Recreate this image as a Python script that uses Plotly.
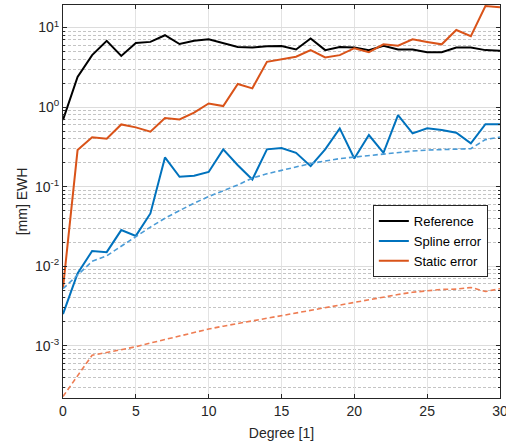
import plotly.graph_objects as go
import numpy as np

degree = list(range(0, 31))

reference = [0.69, 2.4, 4.5, 6.8, 4.4, 6.4, 6.6, 8.0, 6.2, 6.8,
             7.1, 6.3, 5.7, 5.6, 5.8, 5.85, 5.3, 7.3, 5.2, 5.7,
             5.6, 5.2, 5.9, 5.3, 5.3, 4.9, 4.9, 5.6, 5.6, 5.2, 5.1]

spline_error = [0.0025, 0.0081, 0.0155, 0.015, 0.0284, 0.024, 0.046, 0.233, 0.133, 0.137,
                0.153, 0.294, 0.186, 0.123, 0.294, 0.306, 0.266, 0.181, 0.294, 0.54,
                0.226, 0.445, 0.266, 0.79, 0.467, 0.54, 0.514, 0.475, 0.35, 0.61, 0.61]

static_error = [0.0053, 0.288, 0.416, 0.40, 0.605, 0.556, 0.49, 0.73, 0.70, 0.85,
                1.11, 1.03, 1.95, 1.72, 3.7, 4.0, 4.3, 5.2, 4.2, 4.5,
                5.5, 4.9, 6.15, 5.9, 7.1, 6.6, 6.15, 9.3, 7.8, 18.6, 18.0]

spline_bound = [0.0052, 0.0078, 0.0115, 0.0135, 0.018, 0.0235, 0.031, 0.040, 0.050, 0.062,
                0.075, 0.088, 0.105, 0.128, 0.145, 0.160, 0.178, 0.195, 0.210, 0.225,
                0.235, 0.245, 0.26, 0.27, 0.28, 0.288, 0.29, 0.295, 0.30, 0.39, 0.42]

static_bound = [0.00023, 0.00042, 0.00076, 0.00082, 0.00089, 0.00097, 0.00108, 0.0012, 0.00133, 0.00147,
                0.00162, 0.00176, 0.0019, 0.00208, 0.00225, 0.00242, 0.0026, 0.00278, 0.00305, 0.0033,
                0.00355, 0.00385, 0.0041, 0.0044, 0.0047, 0.0049, 0.0051, 0.00515, 0.0054, 0.0048, 0.0052]

x_ticks = [0, 5, 10, 15, 20, 25, 30]
y_tickvals = [1e-3, 1e-2, 1e-1, 1, 10]
y_ticktext = ["10<sup>-3</sup>", "10<sup>-2</sup>", "10<sup>-1</sup>", "10<sup>0</sup>", "10<sup>1</sup>"]
decades = [1e-4, 1e-3, 1e-2, 1e-1, 1, 10]
minor_mult = [2, 3, 4, 5, 6, 7, 8, 9]

y_minor_vals = [d * m for d in decades for m in minor_mult]

BLACK = "#000000"
BLUE = "#0072BD"
ORANGE = "#D95319"
BLUE_L = "#4A9BD6"
ORANGE_L = "#EE7C52"
AX = "#262626"
FONT = "Liberation Sans, Arial, sans-serif"

fig = go.Figure()
fig.add_trace(go.Scatter(x=degree, y=reference, mode="lines", name="Reference",
                         line=dict(color=BLACK, width=2)))
fig.add_trace(go.Scatter(x=degree, y=spline_error, mode="lines", name="Spline error",
                         line=dict(color=BLUE, width=2)))
fig.add_trace(go.Scatter(x=degree, y=static_error, mode="lines", name="Static error",
                         line=dict(color=ORANGE, width=2)))
fig.add_trace(go.Scatter(x=degree, y=spline_bound, mode="lines", showlegend=False,
                         line=dict(color=BLUE_L, width=1.6, dash="5px,3px")))
fig.add_trace(go.Scatter(x=degree, y=static_bound, mode="lines", showlegend=False,
                         line=dict(color=ORANGE_L, width=1.6, dash="5px,3px")))

fig.update_layout(
    width=506, height=444,
    margin=dict(l=63, r=6, t=5, b=46, autoexpand=False),
    paper_bgcolor="white", plot_bgcolor="white",
    font=dict(family=FONT, size=14, color=AX),
    legend=dict(x=0.709, y=0.491, xanchor="left", yanchor="top",
                bgcolor="white", bordercolor=AX, borderwidth=1,
                font=dict(size=13, color="#000000"), itemwidth=30,
                tracegroupgap=0),
)
fig.update_xaxes(
    range=[0, 30.001], tickmode="array", tickvals=x_ticks, ticktext=[str(v) for v in x_ticks],
    ticklabeloverflow="allow", automargin=False,
    showgrid=True, gridcolor="#e3e3e3", gridwidth=1,
    showline=True, linecolor=AX, linewidth=1, mirror="ticks", ticks="inside",
    ticklen=4, tickcolor=AX, zeroline=False,
    title=dict(text="Degree [1]", font=dict(size=14, color=AX), standoff=10),
)
fig.update_yaxes(
    type="log", range=[np.log10(2.2e-4), np.log10(19.2)], automargin=False,
    tickmode="array", tickvals=y_tickvals, ticktext=y_ticktext,
    showgrid=True, gridcolor="#dcdcdc", gridwidth=1,
    minor=dict(tickmode="array", tickvals=y_minor_vals, showgrid=True,
               gridcolor="#c4c4c4", griddash="3px,2px", gridwidth=1,
               ticks="inside", ticklen=2, tickcolor=AX),
    showline=True, linecolor=AX, linewidth=1, mirror="ticks", ticks="inside",
    ticklen=4, tickcolor=AX, zeroline=False,
    title=dict(text="[mm] EWH", font=dict(size=14, color=AX), standoff=4),
)

fig.write_html("out.html")
